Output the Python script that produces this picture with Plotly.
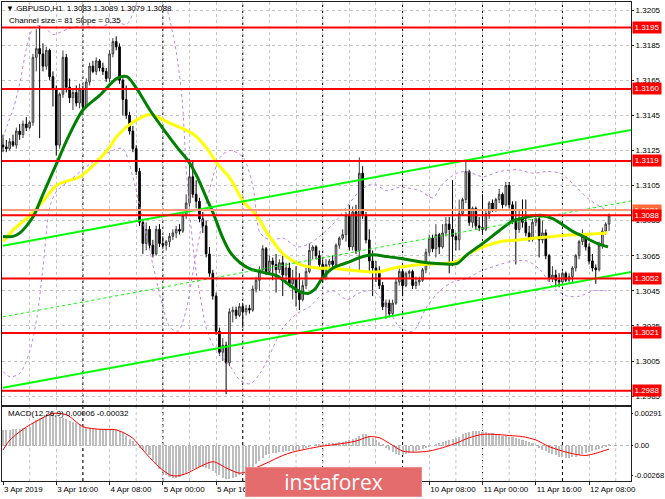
import plotly.graph_objects as go

# ---------------- data (prices in pips above BASE) ----------------
BASE = 1.3000
PIP = 0.0001
MACD_UNIT = 0.0001

open_pips = [128,127,126,130,128,136,134,140,138,141,
             178,183,180,173,182,167,160,128,157,178,
             161,155,158,152,160,150,164,173,170,176,
             172,170,166,180,187,184,165,154,145,136,
             126,113,84,72,80,71,66,80,72,71,
             73,76,78,80,79,88,95,110,100,96,
             86,82,66,55,42,22,10,14,4,33,
             34,31,36,33,35,34,46,51,57,69,
             56,62,60,57,61,54,58,49,52,44,
             40,48,56,68,70,65,60,52,60,62,
             60,71,75,77,88,70,90,68,112,88,
             74,62,58,56,48,36,38,32,38,50,
             56,48,55,56,48,50,51,57,67,75,
             69,77,70,78,83,80,76,74,89,97,
             113,84,92,82,81,80,89,95,91,97,
             100,94,105,94,85,80,86,84,78,74,
             84,86,74,78,65,52,54,51,50,55,
             51,53,58,65,73,76,70,62,58,57,
             71,79,83]
high_pips = [134,131,132,134,138,140,142,144,142,180,
             194,196,186,184,183,170,162,158,182,180,
             166,160,162,163,162,166,175,176,178,177,
             175,172,182,189,190,186,166,162,147,139,
             128,115,86,84,82,74,82,83,76,74,
             78,80,82,83,90,100,120,119,108,98,
             90,85,70,57,44,24,18,16,35,36,
             36,38,38,37,37,48,53,59,71,70,
             65,64,66,63,65,61,61,57,59,55,
             51,58,72,71,71,68,63,63,63,65,
             72,76,80,90,94,93,94,121,116,90,
             80,68,62,59,50,40,40,40,52,59,
             57,56,57,57,53,53,58,69,77,77,
             83,78,83,87,87,108,78,97,98,119,
             114,93,93,87,100,91,96,97,98,103,
             101,107,107,96,96,91,97,97,82,86,
             87,88,85,80,66,59,57,55,56,56,
             55,59,66,74,80,77,72,66,60,73,
             81,84,89]
low_pips = [124,124,125,127,126,131,132,136,137,139,
            170,132,170,171,165,150,122,126,155,158,
            152,148,150,149,147,149,162,169,168,170,
            168,164,164,178,182,163,145,143,134,124,
            111,82,66,68,69,64,65,70,69,68,
            70,74,75,77,78,86,93,98,92,84,
            78,64,53,40,20,8,5,-14,2,27,
            29,30,24,31,32,33,44,45,55,54,
            54,51,44,55,42,49,47,40,36,34,
            39,46,55,63,63,58,50,51,58,58,
            59,69,74,73,68,68,66,56,86,72,
            55,42,50,46,34,29,30,31,37,48,
            42,47,52,46,46,48,50,55,65,67,
            64,66,69,76,55,59,68,68,88,95,
            82,81,80,79,77,79,86,90,90,95,
            92,93,92,83,60,78,81,76,73,73,
            82,64,72,63,50,50,47,47,49,50,
            49,49,56,63,71,68,60,56,49,56,
            69,77,79]
close_pips = [127,126,130,128,136,134,140,138,141,178,
              183,180,173,182,167,160,128,157,178,161,
              155,158,152,160,150,164,173,170,176,172,
              170,166,180,187,184,165,154,145,136,126,
              113,84,72,80,71,66,80,72,71,73,
              76,78,80,79,88,95,110,100,96,86,
              82,66,55,42,22,10,14,4,33,34,
              31,36,33,35,34,46,51,57,69,56,
              62,60,57,61,54,58,49,52,44,40,
              48,56,68,70,65,60,52,60,62,60,
              71,75,77,88,70,90,68,112,88,74,
              62,58,56,48,36,38,32,38,50,56,
              48,55,56,48,50,51,57,67,75,69,
              77,70,78,83,80,76,74,89,97,113,
              84,92,82,81,80,89,95,91,97,100,
              94,105,94,85,80,86,84,78,74,84,
              86,74,78,65,52,54,51,50,55,51,
              53,58,65,73,76,70,62,58,57,71,
              79,83,88]

# moving averages (bar position, pips)
green_ma_bar = [0,3.0,5.1,9.0,12.0,16.2,19.2,24.0,29.1,34.2,
                37.2,40.2,44.1,48.6,52.6,55.6,58.3,61.3,63.4,65.8,
                68.2,71.2,74.2,78.1,82.3,86.2,89.2,91.6,93.7,95.8,
                99.1,103.3,107.2,111.1,115.3,119.2,125.2,130.3,136.3,139.3,
                144.1,149.2,153.2,157.4,161.3,165.2,168.2,171.2,174.2,178.4,181.7]
green_ma_pips = [76,76,78,87,100,118,131,148,156.5,166,
                 167,160,148,136,126,119,110,97,88,76,
                 67,61,57.5,55.5,53.5,48,44.5,43.5,46,52,
                 58,61,64,65.5,64.5,63.5,61.5,60.5,60.5,65.5,
                 72,79.5,85,87,88,86,82.5,78.7,76,72,70]
yellow_ma_bar = [0,3.0,8.1,12.0,16.2,23.1,28.2,32.1,34.2,39.0,
                 44.1,50.2,57.1,61.3,64.3,68.2,72.1,76.3,79.3,84.1,
                 89.2,94.3,99.1,104.2,109.3,113.2,117.1,121.3,125.2,132.1,
                 136.3,139.3,144.1,149.2,154.4,159.2,164.3,169.4,174.2,179.3,181.4]
yellow_ma_pips = [73,79.6,88,96,105.3,110,118.6,127,133,141,
                  145.5,140.4,134.3,126,117.6,109,96,87.6,78,66,
                  60,58,57.8,56.8,55.9,55.9,57.8,59,60,60.6,
                  61.6,65.4,70,73,73.9,74.9,75.8,76.8,77.1,77.7,78.1]

# violet dotted band curves
band1_bar = [0,1.2,3.3,5.1,6.9,8.1,9.6,12.6,15.0,19.2,24.0,29.1,33.0,37.2,39.0,40.5]
band1_pips = [132,139,150,164,182,191,196,195,191,194,196,195,198,197,203,211]
band2_bar = [48.6,51.7,53.8,55.0,56.2,57.7,59.2,61.3,63.7,68.2,
             71.2,74.2,77.2,80.2,84.1,88.3,92.2,95.2,99.1,103.3,
             107.2,111.1,115.3,119.2,123.1,127.3,131.2,135.1,139.3,143.2,
             149.2,153.2,157.4,161.3,165.2,169.4,173.3,177.2,181.4]
band2_pips = [211,185,154,115,87,60,42,22,12,2,
              -6,-8,-2,9,24,32,36,42,45,40,
              44,45,36,24,22,36,45,50,52,56,
              60,62,62,57,47,42,42,45,45]
band3_bar = [0,2.1,5.1,8.1,10.2,12.0,14.1,16.2,20.1,25.2,
             29.1,33.0,36.0,39.0,42.0,45.0,47.7,50.2,52.6,55.0,
             56.8,59.2,62.2,65.2,68.2,72.1,75.1,77.2,80.2,84.1,
             88.3,92.2,99.1,103.3,107.2,111.1,115.3,119.2,125.2,129.1,
             132.1,136.3,139.3,144.1,149.2,154.4,159.2,163.4,167.3,171.2,
             175.4,179.3,181.4]
band3_pips = [-1,-4,-2,11,30,58,93,102,108,116,
              121,125,126,110,85,60,38,24,22,34,
              53,78,104,121,125,121,104,78,74,75,
              70,72,83,93,102,106,102,104,102,98,
              106,112,113,110,113,114,112,113,112,106,
              98,93,91]

# regression channel (end points)
channel_bar = [0, 188.6]
channel_upper = [1.30707, 1.31367]
channel_middle = [1.30302, 1.30962]
channel_lower = [1.29897, 1.30557]

# horizontal levels
level_values = [1.3195, 1.3160, 1.3119, 1.3091, 1.3088, 1.3052, 1.3021, 1.2988]
level_line_colors = ['#ff0000','#ff0000','#ff0000','#ff9a7a','#ff0000','#ff0000','#ff0000','#ff0000']
level_box_colors = ['#ff0000','#ff0000','#ff0000','#ff6a3a','#ff0000','#ff0000','#ff0000','#ff0000']

# MACD (units of 0.0001)
macd_main = [14,14,14,15,15,15,16,16,17,
             20,23,25,26,
             27,28,28,27,
             26,25,24,
             22,21,20,19,18,
             16,16,15,15,15,15,15,15,15,
             14,13,11,9,
             6,4,1,
             -2,-4,-6,-9,
             -13,-17,-21,-24,-27,
             -28,-29,-29,-28,-27,-25,-23,
             -21,-20,-19,-19,-20,-21,
             -23,-25,-27,-29,-30,-30,-29,
             -28,-27,-26,-25,
             -23,-20,-17,-14,-11,-9,
             -8,-7,-7,-6,-6,-5,-5,-5,-4,-4,
             -3,-2,-1,0,1,1,
             1,1,2,2,2,3,3,
             4,5,6,7,9,10,10,9,
             7,5,3,1,
             -2,-4,-6,-8,-9,-9,-8,-7,-6,-5,
             -4,-3,-2,-1,0,1,
             2,3,4,5,6,7,
             8,10,11,12,13,
             13,13,12,12,11,11,
             10,10,9,9,8,8,
             7,6,5,4,3,2,
             0,-2,-4,-5,-7,-8,
             -9,-10,-10,-11,-11,-10,
             -10,-9,-8,-7,-6,-5,
             -4,-3,-2,-1,0.6]
signal_bar = [0,2.1,7.2,12,15,19.2,24,29.1,34.2,39,
              42,46.2,50.2,52.2,55.3,59.2,63.1,67.3,71.2,76,
              79,84,87,95,100,106,110,113,116,120,
              124,128,132,136,140,144,148,152,156,160,
              164,168,172,175,178,182]
signal_vals = [-4,5,17,25,29,27.5,17,14.6,14,6.5,
               -4,-17.6,-26.6,-27.5,-25,-19,-14.6,-20.6,-25,-20,
               -16,-9,-6,-1,1,4,8,7,2,-5,
               -6,-5,-2,2,7,10,10,9,8,5,
               -1,-5,-8,-9,-7,-3.2]

# axis labels
price_ticks = [1.3205,1.3185,1.3165,1.3145,1.3125,1.3105,1.3085,1.3065,1.3045,1.3025,1.3005,1.2985]
macd_ticks = [0.00291, 0.0, -0.00268]
macd_tick_text = ['0.00291', '0.00', '-0.00268']
time_tick_bars = [0,16,32,48,64,80,96,112,128,144,160,176]
time_tick_text = ['3 Apr 2019','3 Apr 16:00','4 Apr 08:00','5 Apr 00:00','5 Apr 16:00','8 Apr 08:00',
                  '9 Apr 00:00','9 Apr 16:00','10 Apr 08:00','11 Apr 00:00','11 Apr 16:00','12 Apr 08:00']
day_start_bars = [24,48,72,96,120,144,168]
grid_bars = list(range(0, 189, 8))

title_text = '\u25bc GBPUSD,H1  1.3083 1.3089 1.3079 1.3088'
channel_text = 'Channel size = 81 Slope = 0.35'
macd_text = 'MACD(12,26,9) 0.00006 -0.00032'

# ---------------- layout geometry ----------------
W, H = 665, 499
FONT = 'Liberation Sans'
def px(v): return v / W
def py(v): return 1 - v / H

def to_price(vals): return [BASE + v * PIP for v in vals]

bars = list(range(len(close_pips)))
x_range = [(2 - 3) / 3.33, (631 - 3) / 3.33]
y_range = [1.3205 - (405 - 10) / 17550, 1.3205 + (10 - 2) / 17550]
macd_range = [(445.5 - 481) / 11.09 * 0.001, (445.5 - 407) / 11.09 * 0.001]

fig = go.Figure()

fig.add_trace(go.Candlestick(
    x=bars, open=to_price(open_pips), high=to_price(high_pips),
    low=to_price(low_pips), close=to_price(close_pips),
    increasing=dict(line=dict(color='#3c3c3c', width=1), fillcolor='#c4c4c4'),
    decreasing=dict(line=dict(color='#000000', width=1), fillcolor='#000000'),
    whiskerwidth=0, hoverinfo='skip', showlegend=False, xaxis='x', yaxis='y'))

for bx, bp in [(band1_bar, band1_pips), (band2_bar, band2_pips), (band3_bar, band3_pips)]:
    fig.add_trace(go.Scatter(x=bx, y=to_price(bp), mode='lines',
                             line=dict(color='#c780ea', width=1, dash='dot', shape='spline', smoothing=0.8),
                             hoverinfo='skip', showlegend=False, xaxis='x', yaxis='y'))

fig.add_trace(go.Scatter(x=yellow_ma_bar, y=to_price(yellow_ma_pips), mode='lines',
                         line=dict(color='#ffff00', width=3, shape='spline', smoothing=0.8),
                         hoverinfo='skip', showlegend=False, xaxis='x', yaxis='y'))
fig.add_trace(go.Scatter(x=green_ma_bar, y=to_price(green_ma_pips), mode='lines',
                         line=dict(color='#008000', width=3, shape='spline', smoothing=0.8),
                         hoverinfo='skip', showlegend=False, xaxis='x', yaxis='y'))

fig.add_trace(go.Scatter(x=channel_bar, y=channel_upper, mode='lines', xaxis='x', yaxis='y',
                         line=dict(color='#00ff00', width=2), hoverinfo='skip', showlegend=False))
fig.add_trace(go.Scatter(x=channel_bar, y=channel_lower, mode='lines', xaxis='x', yaxis='y',
                         line=dict(color='#00ff00', width=2), hoverinfo='skip', showlegend=False))
fig.add_trace(go.Scatter(x=channel_bar, y=channel_middle, mode='lines', xaxis='x', yaxis='y',
                         line=dict(color='#00ff00', width=1, dash='3px,3px'), hoverinfo='skip', showlegend=False))

fig.add_trace(go.Bar(x=bars, y=[v * MACD_UNIT for v in macd_main], width=0.62,
                     marker=dict(color='#bdbdbd', line=dict(width=0)),
                     hoverinfo='skip', showlegend=False, xaxis='x2', yaxis='y2'))
fig.add_trace(go.Scatter(x=signal_bar, y=[v * MACD_UNIT for v in signal_vals], mode='lines',
                         line=dict(color='#ff0000', width=1, shape='spline', smoothing=0.8),
                         hoverinfo='skip', showlegend=False, xaxis='x2', yaxis='y2'))

grid_col = '#c4c4c4'
axis_font = dict(family=FONT, size=8, color='#000000')
fig.update_layout(
    width=W, height=H, margin=dict(l=0, r=0, t=0, b=0, autoexpand=False),
    paper_bgcolor='white', plot_bgcolor='white', showlegend=False,
    bargap=0,
    xaxis=dict(domain=[px(2), px(631)], range=x_range, anchor='y',
               tickmode='array', tickvals=grid_bars, showticklabels=False, ticks='',
               showgrid=True, gridcolor=grid_col, griddash='3px,3px', gridwidth=1,
               zeroline=False, showline=True, mirror=True, linecolor='#202020', linewidth=1,
               rangeslider=dict(visible=False), fixedrange=True, automargin=False),
    yaxis=dict(domain=[py(405), py(2)], range=y_range, anchor='x', side='right',
               tickmode='array', tickvals=price_ticks, ticktext=[f'{v:.4f}' for v in price_ticks],
               ticks='outside', ticklen=2, tickcolor='#202020', tickfont=axis_font,
               showgrid=True, gridcolor=grid_col, griddash='3px,3px', gridwidth=1,
               zeroline=False, showline=True, mirror=True, linecolor='#202020', linewidth=1,
               fixedrange=True, automargin=False),
    xaxis2=dict(domain=[px(2), px(631)], range=x_range, anchor='y2',
                tickmode='array', tickvals=time_tick_bars, ticktext=time_tick_text,
                ticklabelposition='outside right', tickangle=0,
                ticks='outside', ticklen=3, tickcolor='#202020',
                tickfont=axis_font, showgrid=True, gridcolor=grid_col, griddash='3px,3px',
                zeroline=False, showline=True, mirror=True, linecolor='#202020', linewidth=1,
                fixedrange=True, automargin=False),
    yaxis2=dict(domain=[py(481), py(407)], range=macd_range, anchor='x2', side='right',
                tickmode='array', tickvals=macd_ticks, ticktext=macd_tick_text,
                ticks='outside', ticklen=1, tickcolor='#202020',
                tickfont=dict(family=FONT, size=7.5, color='#000000'),
                showgrid=False, zeroline=False, showline=True, mirror=True,
                linecolor='#202020', linewidth=1, fixedrange=True, automargin=False),
)

shapes = []
for b in grid_bars:
    if b % 16 != 0:
        shapes.append(dict(type='line', xref='x2', yref='paper', x0=b, x1=b, y0=py(481), y1=py(407),
                           line=dict(color=grid_col, width=1, dash='3px,3px'), layer='below'))
for b in day_start_bars:
    shapes.append(dict(type='line', xref='x', yref='paper', x0=b, x1=b, y0=py(481), y1=py(2),
                       line=dict(color='#000000', width=1, dash='dot'), layer='below'))
shapes.append(dict(type='line', xref='paper', yref='y2', x0=px(2), x1=px(631), y0=0, y1=0,
                   line=dict(color='#b0b0b0', width=1, dash='3px,3px'), layer='below'))
for lv, col in zip(level_values, level_line_colors):
    shapes.append(dict(type='line', xref='paper', yref='y', x0=px(2), x1=px(631), y0=lv, y1=lv,
                       line=dict(color=col, width=2), layer='above'))
fig.update_layout(shapes=shapes)

ann = []
ann.append(dict(xref='paper', yref='paper', x=px(4), y=py(8), xanchor='left', yanchor='middle',
                text=title_text, showarrow=False, font=dict(family=FONT, size=8, color='#000')))
ann.append(dict(xref='paper', yref='paper', x=px(7), y=py(20), xanchor='left', yanchor='middle',
                text=channel_text, showarrow=False, font=dict(family=FONT, size=8, color='#000')))
ann.append(dict(xref='paper', yref='paper', x=px(6), y=py(413), xanchor='left', yanchor='middle',
                text=macd_text, showarrow=False, font=dict(family=FONT, size=8, color='#000')))
for lv, col in zip(level_values, level_box_colors):
    ann.append(dict(xref='paper', yref='y', x=px(632), y=lv, xanchor='left', yanchor='middle',
                    text=f'{lv:.4f}', showarrow=False, bgcolor=col, width=28, height=11,
                    borderpad=0, font=dict(family=FONT, size=8, color='#ffffff')))
ann.append(dict(xref='paper', yref='paper', x=px(245), y=py(467), xanchor='left', yanchor='top',
                text='instaforex', showarrow=False, bgcolor='#e46c6c', bordercolor='#ee8c8c',
                borderwidth=1, width=175, height=28, borderpad=0,
                font=dict(family='Open Sans', size=21, color='#ffffff')))
fig.update_layout(annotations=ann)

fig.write_html('out.html', config={'displayModeBar': False},
               post_script="document.body.style.margin='0';document.body.style.padding='0';"
                           "document.documentElement.style.overflow='hidden';")
